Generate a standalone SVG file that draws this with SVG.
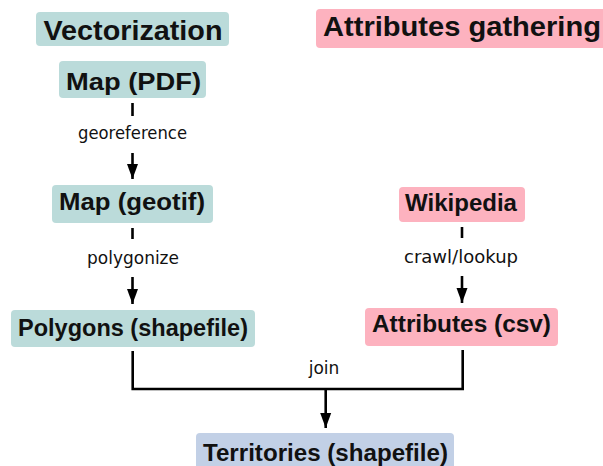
<svg xmlns="http://www.w3.org/2000/svg" width="603" height="466" viewBox="0 0 603 466">
<style>
.teal{fill:#bbdbda}
.pink{fill:#fdb2bf}
.blue{fill:#c2d0e6}
.h{font-family:"Liberation Sans",Arial,sans-serif;font-weight:bold;font-size:28px;fill:#111;text-anchor:middle}
.n{font-family:"Liberation Sans",Arial,sans-serif;font-weight:bold;font-size:23px;fill:#111;text-anchor:middle}
.l{font-family:"DejaVu Sans",sans-serif;font-size:17px;fill:#111;text-anchor:middle}
.e{stroke:#000;stroke-width:2.6;fill:none}
</style>
<defs>
<marker id="arr" markerUnits="userSpaceOnUse" markerWidth="18" markerHeight="14" refX="15" refY="7" orient="auto" viewBox="0 0 18 14">
<path d="M0,1.5 L15,7 L0,12.5 Z" fill="#000"/>
</marker>
</defs>
<g id="vectorization">
<rect class="teal" x="36" y="12" width="193" height="34" rx="4"/>
<text class="h" x="133" y="40" textLength="179" lengthAdjust="spacingAndGlyphs">Vectorization</text>
</g>
<g id="attributes-gathering">
<rect class="pink" x="316" y="9" width="300" height="39" rx="4"/>
<text class="h" x="462" y="36" textLength="278" lengthAdjust="spacingAndGlyphs">Attributes gathering</text>
</g>
<g id="map-pdf">
<rect class="teal" x="59" y="61" width="147" height="37" rx="4"/>
<text class="n" x="133.5" y="90" textLength="135" lengthAdjust="spacingAndGlyphs">Map (PDF)</text>
</g>
<g id="map-geotif">
<rect class="teal" x="52" y="185" width="161" height="38" rx="4"/>
<text class="n" x="132" y="210" textLength="146" lengthAdjust="spacingAndGlyphs">Map (geotif)</text>
</g>
<g id="polygons">
<rect class="teal" x="11" y="310" width="244" height="37" rx="4"/>
<text class="n" x="133" y="336" textLength="230" lengthAdjust="spacingAndGlyphs">Polygons (shapefile)</text>
</g>
<g id="wikipedia">
<rect class="pink" x="399" y="187" width="126" height="35" rx="4"/>
<text class="n" x="461" y="211" textLength="112" lengthAdjust="spacingAndGlyphs">Wikipedia</text>
</g>
<g id="attributes-csv">
<rect class="pink" x="365" y="308" width="193" height="38" rx="4"/>
<text class="n" x="461.5" y="332" textLength="179" lengthAdjust="spacingAndGlyphs">Attributes (csv)</text>
</g>
<g id="territories">
<rect class="blue" x="196" y="433" width="258" height="40" rx="4"/>
<text class="n" x="325.5" y="461" textLength="245" lengthAdjust="spacingAndGlyphs">Territories (shapefile)</text>
</g>
<g id="connectors">
<path class="e" d="M132.5,103 V116"/>
<path class="e" d="M132.5,153 V179" marker-end="url(#arr)"/>
<text class="l" x="132.5" y="139" textLength="109" lengthAdjust="spacingAndGlyphs">georeference</text>
<path class="e" d="M132.5,228 V239"/>
<path class="e" d="M132.5,277 V304" marker-end="url(#arr)"/>
<text class="l" x="133" y="264" textLength="92" lengthAdjust="spacingAndGlyphs">polygonize</text>
<path class="e" d="M462,227 V238"/>
<path class="e" d="M462,276 V303" marker-end="url(#arr)"/>
<text class="l" x="461" y="263" textLength="114" lengthAdjust="spacingAndGlyphs">crawl/lookup</text>
<path class="e" d="M132.7,351 V389 H462.7 V350"/>
<path class="e" d="M325.7,389 V428" marker-end="url(#arr)"/>
<text class="l" x="324" y="374">join</text>
</g>
</svg>
